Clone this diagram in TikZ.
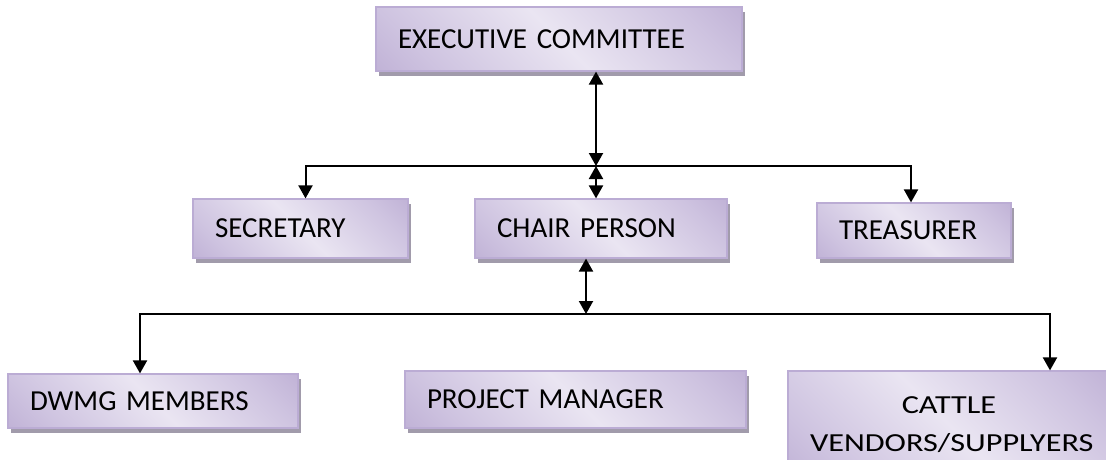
\documentclass[tikz,border=0pt]{standalone}
\usepackage{fontspec}
\setmainfont{Carlito}
\newfontfamily\widefont[FakeStretch=1.24]{Carlito}
\usetikzlibrary{arrows.meta,shadows}

\definecolor{boxdark}{HTML}{AE9CC9}
\definecolor{boxmid}{HTML}{CEC3E0}
\definecolor{boxlight}{HTML}{EAE5F2}
\definecolor{boxedge}{HTML}{BBACD4}
\definecolor{boxshadow}{HTML}{A19BAB}

\pgfdeclareverticalshading{boxfill}{100bp}{color(0bp)=(boxdark); color(25bp)=(boxmid); color(50bp)=(boxlight); color(75bp)=(boxmid); color(100bp)=(boxdark)}

\newcommand\boxfont{\fontsize{29}{38}\selectfont}

\tikzset{
  office/.style={draw=boxedge, line width=1.2pt, shade, shading=boxfill, shading angle=-45,
    drop shadow={shadow xshift=3pt, shadow yshift=-5pt, fill=boxshadow, opacity=1},
    inner xsep=22pt, inner ysep=0pt, align=left, font=\boxfont},
  link/.style={line width=2pt}
}

\begin{document}
\begin{tikzpicture}[x=1pt, y=-1pt, >={Triangle[width=14pt,length=13pt]}]
\useasboundingbox (0,0) rectangle (1106,459);

% offices
\node[office, text width=322pt, minimum height=64pt] (exec) at (559,39) {EXECUTIVE COMMITTEE};
\node[office, text width=171pt, minimum height=59pt] (sec) at (300.5,228.5) {SECRETARY};
\node[office, text width=208pt, minimum height=59pt] (chair) at (601,228.5) {CHAIR PERSON};
\node[office, text width=150pt, minimum height=55pt] (treas) at (914,230.5) {TREASURER};
\node[office, text width=246pt, minimum height=54pt] (dwmg) at (153,401) {DWMG MEMBERS};
\node[office, text width=297pt, minimum height=57pt] (pm) at (575.5,399.5) {PROJECT MANAGER};
\node[office, text width=278pt, minimum height=107pt, align=center,
  font=\widefont\fontsize{26}{38}\selectfont] (cattle) at (949,424.5) {CATTLE\\VENDORS/SUPPLYERS};

% junctions on the two bars
\coordinate (upper) at (596,166);
\coordinate (lower) at (586,314);

\draw[link,<->] (upper |- exec.south) -- (upper);
\draw[link,->] (upper) -| ([xshift=5pt]sec.north);
\draw[link,->] (upper) -| ([xshift=-3pt]treas.north);
\draw[link,<->] (upper) -- (upper |- chair.north);

\draw[link,<->] (lower |- chair.south) -- (lower);
\draw[link,->] (lower) -| ([xshift=-13pt]dwmg.north);
\draw[link,->] (lower) -| ([xshift=101pt]cattle.north);

\end{tikzpicture}
\end{document}
